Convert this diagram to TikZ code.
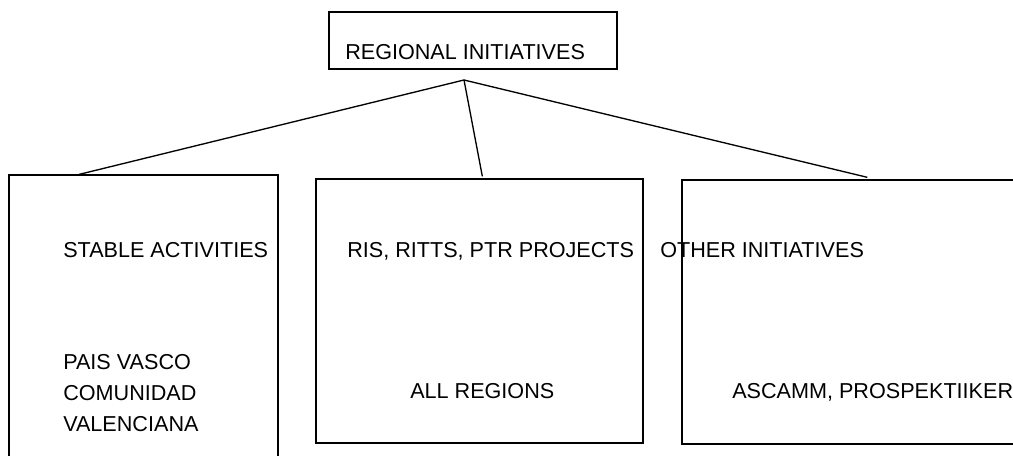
\documentclass[tikz,border=0pt]{standalone}
\usepackage{fontspec}
\setmainfont{Liberation Sans}
\usepackage{tikz}
\usetikzlibrary{calc}
\tikzstyle{box}=[draw,line width=1pt,inner sep=0pt,minimum width=#1]
\tikzstyle{lbl}=[anchor=base west,inner sep=0pt]
\tikzstyle{link}=[line width=1pt]
\begin{document}
\begin{tikzpicture}[x=.75pt,y=-.75pt,font=\fontsize{16.2}{19}\selectfont]
	\path[use as bounding box] (0,0) rectangle (1013,456);
	\clip (0,0) rectangle (1013,456);
	\node[box=216pt,minimum height=42.75pt] (region) at (473,40.5) {};
	\node[box=201.75pt,minimum height=225pt] (stable) at (143.5,325) {};
	\node[box=245.25pt,minimum height=198pt] (ris) at (479.5,311) {};
	\node[box=261pt,minimum height=198pt] (other) at (856,312) {};
	\coordinate (fork) at (464,80);
	%
	\node[lbl] (regiontxt) at (345,59.5) {REGIONAL INITIATIVES};
	\node[lbl] (stabletxt) at (63,257.5) {STABLE ACTIVITIES};
	\node[lbl] (pais) at (63,369.5) {PAIS VASCO};
	\node[lbl] (comunidad) at (63,400.5) {COMUNIDAD};
	\node[lbl] (valenciana) at (63,431.5) {VALENCIANA};
	\node[lbl] (ristxt) at (347,257.5) {RIS, RITTS, PTR PROJECTS};
	\node[lbl] (allreg) at (410,398.5) {ALL REGIONS};
	\node[lbl] (othertxt) at (660,257.5) {OTHER INITIATIVES};
	\node[lbl] (ascamm) at (732,398.5) {ASCAMM, PROSPEKTIIKER};
%
	\draw[link] (fork) -- ($(stable.north west)+(71,0)$);
	\draw[link] (fork) -- ($(ris.north west)+(167,-2)$);
	\draw[link] (fork) -- ($(other.north west)+(186,-2)$);
\end{tikzpicture}
\end{document}
